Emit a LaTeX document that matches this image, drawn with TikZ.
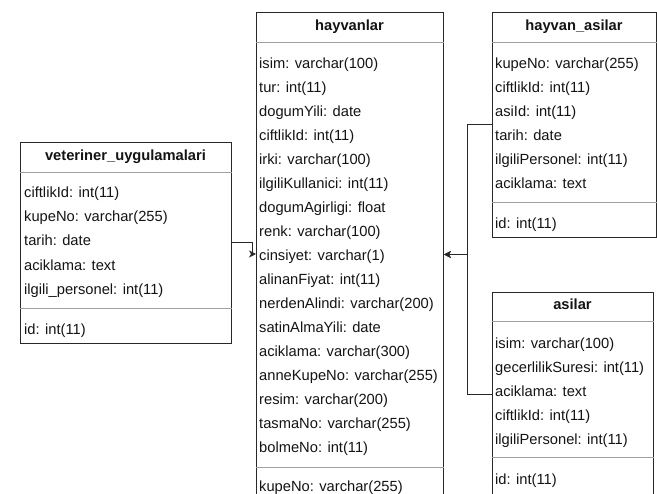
\documentclass[tikz,border=0pt]{standalone}
\usepackage{fontspec}
\setmainfont{Liberation Sans}
\usetikzlibrary{arrows.meta,calc}
\definecolor{edge}{RGB}{40,40,40}
\definecolor{rule}{RGB}{160,160,160}
\definecolor{ink}{RGB}{20,20,20}
\tikzset{
  tbl/.style={draw=edge, line width=1pt, fill=white, inner sep=0pt, anchor=north west},
  hdr/.style={font=\fontsize{14.7}{16}\selectfont\bfseries, text=ink, inner sep=0pt,
    text height=10.6pt, text depth=3.1pt},
  fld/.style={font=\fontsize{14.7}{16}\selectfont, text=ink, inner sep=0pt, anchor=west,
    text height=15.6pt, text depth=3.1pt},
  sep/.style={draw=rule, line width=0.9pt},
  conn/.style={draw=edge, line width=1pt, -{Stealth[length=7pt,width=7pt,inset=2pt]}},
}
\begin{document}
\begin{tikzpicture}[x=1pt,y=-1pt]
\useasboundingbox (0,0) rectangle (657,494);
\clip (0,0) rectangle (657,494);

% ---- veteriner_uygulamalari ----
\node[tbl, minimum width=211pt, minimum height=201pt] (vet) at (20,142) {};
\node[hdr] (vet-h) at (125.5,157) {veteriner\_uygulamalari};
\draw[sep] ($(vet.north west)+(0,30)$) -- ($(vet.north east)+(0,30)$);
\node[fld] (vet-1) at (24,191) {ciftlikId: int(11)};
\node[fld] (vet-2) at (24,215) {kupeNo: varchar(255)};
\node[fld] (vet-3) at (24,239) {tarih: date};
\node[fld] (vet-4) at (24,264) {aciklama: text};
\node[fld] (vet-5) at (24,288) {ilgili\_personel: int(11)};
\draw[sep] ($(vet.north west)+(0,166)$) -- ($(vet.north east)+(0,166)$);
\node[fld] (vet-id) at (24,328) {id: int(11)};

% ---- hayvanlar ----
\node[tbl, minimum width=187pt, minimum height=484pt] (hay) at (256,12) {};
\node[hdr] (hay-h) at (349.5,27) {hayvanlar};
\draw[sep] ($(hay.north west)+(0,30)$) -- ($(hay.north east)+(0,30)$);
\foreach \t [count=\i from 0] in {isim: varchar(100), tur: int(11), dogumYili: date,
    ciftlikId: int(11), irki: varchar(100), ilgiliKullanici: int(11),
    dogumAgirligi: float, renk: varchar(100), cinsiyet: varchar(1),
    alinanFiyat: int(11), nerdenAlindi: varchar(200), satinAlmaYili: date,
    aciklama: varchar(300), anneKupeNo: varchar(255), resim: varchar(200),
    tasmaNo: varchar(255), bolmeNo: int(11)}
  \node[fld] (hay-\i) at (259,62+24*\i) {\t};
\draw[sep] ($(hay.north west)+(0,455)$) -- ($(hay.north east)+(0,455)$);
\node[fld] (hay-key) at (259,485) {kupeNo: varchar(255)};

% ---- hayvan_asilar ----
\node[tbl, minimum width=164pt, minimum height=225pt] (ha) at (492,12) {};
\node[hdr] (ha-h) at (574,27) {hayvan\_asilar};
\draw[sep] ($(ha.north west)+(0,30)$) -- ($(ha.north east)+(0,30)$);
\node[fld] (ha-1) at (495,62) {kupeNo: varchar(255)};
\node[fld] (ha-2) at (495,86) {ciftlikId: int(11)};
\node[fld] (ha-3) at (495,110) {asiId: int(11)};
\node[fld] (ha-4) at (495,134) {tarih: date};
\node[fld] (ha-5) at (495,158) {ilgiliPersonel: int(11)};
\node[fld] (ha-6) at (495,182) {aciklama: text};
\draw[sep] ($(ha.north west)+(0,190)$) -- ($(ha.north east)+(0,190)$);
\node[fld] (ha-id) at (495,222) {id: int(11)};

% ---- asilar ----
\node[tbl, minimum width=161pt, minimum height=204pt] (as) at (492,292) {};
\node[hdr] (as-h) at (572.5,306) {asilar};
\draw[sep] ($(as.north west)+(0,29)$) -- ($(as.north east)+(0,29)$);
\node[fld] (as-1) at (495,342) {isim: varchar(100)};
\node[fld] (as-2) at (495,366) {gecerlilikSuresi: int(11)};
\node[fld] (as-3) at (495,390) {aciklama: text};
\node[fld] (as-4) at (495,414) {ciftlikId: int(11)};
\node[fld] (as-5) at (495,438) {ilgiliPersonel: int(11)};
\draw[sep] ($(as.north west)+(0,165)$) -- ($(as.north east)+(0,165)$);
\node[fld] (as-id) at (495,478) {id: int(11)};

% ---- relations ----
\draw[conn] (vet.east) -- ++(20,0) |- (hay.west |- hay-8.west);
\draw[conn] (ha.west) -- ++(-25,0) |- (hay.east);
\draw[conn] (as.west) -- ++(-25,0) |- (hay.east);
\end{tikzpicture}
\end{document}
